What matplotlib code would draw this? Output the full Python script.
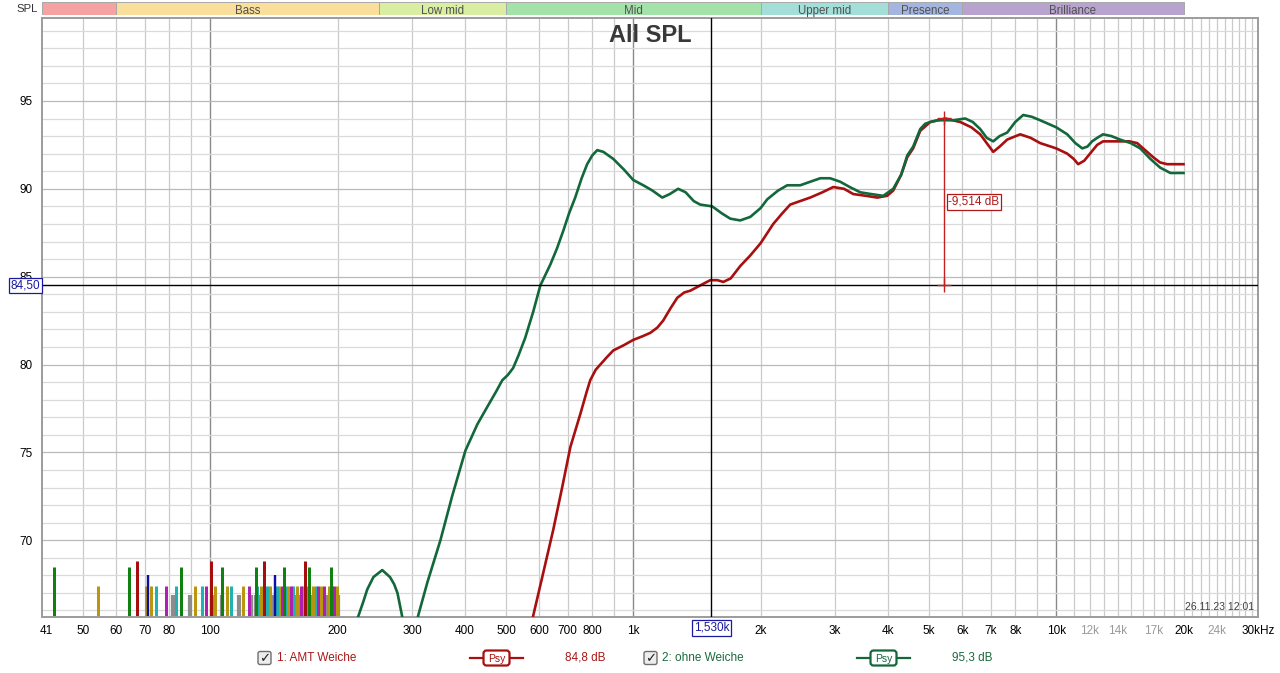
import matplotlib
matplotlib.use('Agg')
import matplotlib.pyplot as plt
import matplotlib.transforms as mtransforms
from matplotlib.patches import FancyBboxPatch, Rectangle
import numpy as np

plt.rcParams['font.family'] = ['Liberation Sans', 'DejaVu Sans']

green_f = [200, 224, 230, 235, 243, 255, 266, 272, 277, 284, 297, 310, 326, 350, 373, 401, 428,
           452, 475, 490, 505, 520, 535, 555, 580, 603, 637, 660, 683, 705, 729, 755, 778, 800,
           822, 850, 897, 950, 1000, 1056, 1110, 1171, 1220, 1277, 1330, 1390, 1440, 1537, 1620,
           1696, 1790, 1891, 2000, 2074, 2200, 2313, 2400, 2482, 2620, 2768, 2920, 3086, 3250,
           3441, 3650, 3900, 4118, 4300, 4445, 4590, 4770, 4900, 5036, 5250, 5466, 5700, 6095,
           6350, 6612, 6850, 7098, 7350, 7658, 8000, 8356, 8750, 9164, 10000, 10620, 11100,
           11524, 11850, 12160, 12500, 12910, 13500, 14160, 15000, 15800, 16700, 17620, 18620,
           19650, 20000]
green_db = [62.0, 65.7, 66.5, 67.2, 67.9, 68.3, 67.9, 67.5, 67.0, 65.7, 62.0, 65.7, 67.6, 70.0,
            72.5, 75.1, 76.6, 77.6, 78.5, 79.1, 79.4, 79.8, 80.5, 81.5, 83.0, 84.5, 85.7, 86.6,
            87.6, 88.6, 89.5, 90.6, 91.4, 91.9, 92.2, 92.1, 91.7, 91.1, 90.5, 90.2, 89.9, 89.5,
            89.7, 90.0, 89.8, 89.3, 89.1, 89.0, 88.6, 88.3, 88.2, 88.4, 88.9, 89.4, 89.9, 90.2,
            90.2, 90.2, 90.4, 90.6, 90.6, 90.4, 90.1, 89.8, 89.7, 89.6, 90.0, 90.8, 91.9, 92.4,
            93.4, 93.7, 93.8, 93.9, 93.9, 93.9, 94.0, 93.8, 93.4, 92.9, 92.7, 93.0, 93.2, 93.8,
            94.2, 94.1, 93.9, 93.5, 93.1, 92.6, 92.3, 92.4, 92.7, 92.9, 93.1, 93.0, 92.8, 92.6,
            92.3, 91.7, 91.2, 90.9, 90.9, 90.9]

red_f = [560, 580, 612, 647, 679, 710, 750, 775, 791, 815, 836, 865, 897, 950, 1000, 1050, 1097,
         1140, 1177, 1225, 1271, 1320, 1364, 1440, 1521, 1580, 1633, 1700, 1790, 1890, 2000,
         2143, 2250, 2350, 2480, 2620, 2800, 2971, 3150, 3313, 3550, 3776, 3983, 4118, 4300,
         4445, 4590, 4770, 5036, 5250, 5466, 5932, 6300, 6612, 6850, 7098, 7350, 7658, 8220,
         8700, 9164, 10000, 10620, 11000, 11270, 11650, 12020, 12500, 12910, 13500, 14160,
         14900, 15540, 16950, 17600, 18290, 20000]
red_db = [63.5, 65.7, 68.1, 70.6, 73.0, 75.3, 77.2, 78.4, 79.1, 79.7, 80.0, 80.4, 80.8, 81.1,
          81.4, 81.6, 81.8, 82.1, 82.5, 83.2, 83.8, 84.1, 84.2, 84.5, 84.8, 84.8, 84.7, 84.9,
          85.6, 86.2, 86.9, 88.0, 88.6, 89.1, 89.3, 89.5, 89.8, 90.1, 90.0, 89.7, 89.6, 89.5,
          89.6, 89.9, 90.8, 91.8, 92.3, 93.3, 93.8, 93.9, 94.0, 93.8, 93.5, 93.1, 92.6, 92.1,
          92.4, 92.8, 93.1, 92.9, 92.6, 92.3, 92.0, 91.7, 91.4, 91.6, 92.0, 92.5, 92.7, 92.7,
          92.7, 92.7, 92.6, 91.8, 91.5, 91.4, 91.4]

# --- small marker bars at the bottom (Hz) and their tops (dB)
bars_gray = [81.8, 89.7, 100.8, 106.4, 117.1, 125, 128, 131, 134, 137, 140, 143, 146, 149, 152,
             155, 158, 161, 164, 167, 170, 173, 176, 179, 182, 185, 188, 191, 194, 197, 200]
bars_gold = [54.4, 70.6, 72.6, 92.2, 102.8, 109.7, 119.7, 132.0, 138.5, 145.5, 152.5, 160.5,
             165.5, 174.5, 182.5, 190.5, 199.0]
bars_cyan = [74.5, 83.1, 95.7, 112.1, 129.1, 136.0, 143.5, 150.5, 157.0, 169.0, 178.0, 194.0]
bars_magenta = [78.7, 97.8, 123.7, 147.5, 155.5, 163.5, 180.0, 186.0, 196.0]
bars_green = [42.8, 64.3, 85.4, 106.7, 128.5, 149.6, 171.4, 192.4]
bars_red = [67.2, 100.5, 134.1, 167.7]
bars_blue = [71.4, 142.5]
bar_tops = {'gray': 66.9, 'gold': 67.4, 'cyan': 67.4, 'magenta': 67.4,
            'green': 68.5, 'red': 68.8, 'blue': 68.0}

# --- frequency bands
band_names = ['', 'Bass', 'Low mid', 'Mid', 'Upper mid', 'Presence', 'Brilliance']
band_edges = [40, 60, 250, 500, 2000, 4000, 6000, 20000]
band_colors = ['#F7A2A2', '#F9DF9B', '#D9EDA3', '#A3E2A9', '#A3DED9', '#A4B6E0', '#B8A3CE']

# --- ticks
x_ticks = [41, 50, 60, 70, 80, 100, 200, 300, 400, 500, 600, 700, 800, 1000, 2000, 3000, 4000,
           5000, 6000, 7000, 8000, 10000, 12000, 14000, 17000, 20000, 24000, 30000]
x_labels = ['41', '50', '60', '70', '80', '100', '200', '300', '400', '500', '600', '700', '800',
            '1k', '2k', '3k', '4k', '5k', '6k', '7k', '8k', '10k', '12k', '14k', '17k', '20k',
            '24k', '30kHz']
x_grey = ['12k', '14k', '17k', '24k']
y_ticks = [70, 75, 80, 85, 90, 95]

cursor_f = 1530
cursor_db = 84.5
delta_f = 5440
delta_db = -9.514

GREEN = '#12683A'
RED = '#A80F0F'

W, H = 1280, 673
def px(x0, y0, x1, y1):
    return [x0 / W, 1 - y1 / H, (x1 - x0) / W, (y1 - y0) / H]

fig = plt.figure(figsize=(12.8, 6.73), dpi=100)
fig.patch.set_facecolor('white')

ax = fig.add_axes(px(42, 18, 1258, 617))
ax.set_xscale('log')
ax.set_xlim(40, 30000)
ax.set_ylim(65.63, 99.72)

# grid
light_f = [50, 60, 70, 80, 90] + list(range(200, 1000, 100)) + list(range(2000, 10000, 1000)) \
    + list(range(11000, 30000, 1000))
for f in light_f:
    ax.axvline(f, color='#CACACA', lw=0.9, zorder=0)
for f in [100, 1000, 10000]:
    ax.axvline(f, color='#8A8A8A', lw=1.0, zorder=0)
for d in range(66, 100):
    ax.axhline(d, color='#BABABA' if d % 5 == 0 else '#DADADA', lw=0.9, zorder=0)

# bottom bars
bar_sets = [('gray', bars_gray, '#8C8C8C', 4.2), ('gold', bars_gold, '#B8960E', 3.0),
            ('cyan', bars_cyan, '#20B2B2', 3.0), ('magenta', bars_magenta, '#B020B0', 3.0),
            ('green', bars_green, '#108010', 3.0), ('red', bars_red, '#A50E0E', 3.0),
            ('blue', bars_blue, '#1010A0', 2.4)]
for name, freqs, col, lw in bar_sets:
    ax.vlines(freqs, 65.63, bar_tops[name], colors=col, lw=lw * 0.72, zorder=2)

ax.plot(red_f, red_db, color=RED, lw=1.9, zorder=4, solid_joinstyle='round')
ax.plot(green_f, green_db, color=GREEN, lw=1.9, zorder=5, solid_joinstyle='round')

# cursors
ax.axhline(cursor_db, color='black', lw=1.0, zorder=6)
ax.axvline(cursor_f, color='black', lw=1.0, zorder=6)

# delta marker
top_db = cursor_db - delta_db
ax.plot([delta_f, delta_f], [cursor_db, top_db], color='#C42020', lw=1.0, zorder=7)
ax.plot([delta_f, delta_f], [cursor_db, top_db], ls='none', marker='+', ms=10, mew=1.0,
        color='#C42020', zorder=7)
ax.text(delta_f * 1.022, (cursor_db + top_db) / 2, ('%.3f dB' % delta_db).replace('.', ','),
        ha='left', va='center', fontsize=8.5, color='#B01818', zorder=8,
        bbox=dict(boxstyle='square,pad=0.15', fc='white', ec='#B01818', lw=0.9))

# ticks
ax.set_xticks(x_ticks)
ax.set_xticklabels(x_labels)
ax.xaxis.set_minor_locator(matplotlib.ticker.NullLocator())
ax.set_yticks(y_ticks)
ax.set_yticklabels([str(v) for v in y_ticks])
ax.tick_params(length=0, labelsize=8.5, colors='black')
ax.tick_params(axis='x', pad=6)
ax.tick_params(axis='y', pad=7)
for lab in ax.get_xticklabels():
    if lab.get_text() in x_grey:
        lab.set_color('#9A9A9A')
for s in ax.spines.values():
    s.set_color('#9C9C9C')
    s.set_linewidth(1.4)

# cursor readouts
tr_y = mtransforms.blended_transform_factory(fig.transFigure, ax.transData)
fig.text(40.5 / W, cursor_db, ('%.2f' % cursor_db).replace('.', ','), transform=tr_y,
         ha='right', va='center', fontsize=8.5, color='#1A1AA0', zorder=10,
         bbox=dict(boxstyle='square,pad=0.15', fc='white', ec='#1A1AA0', lw=0.9))
tr_x = mtransforms.blended_transform_factory(ax.transData, fig.transFigure)
fig.text(cursor_f, 1 - 628 / H, ('%.3fk' % (cursor_f / 1000)).replace('.', ','), transform=tr_x,
         ha='center', va='center', fontsize=8.5, color='#1A1AA0', zorder=10,
         bbox=dict(boxstyle='square,pad=0.15', fc='white', ec='#1A1AA0', lw=0.9))

# title and timestamp
fig.text(650 / W, 1 - 35 / H, 'All SPL', ha='center', va='center', fontsize=17,
         fontweight='bold', color='#383838')
ax.text(0.997, 0.008, '26.11.23 12:01', transform=ax.transAxes, ha='right', va='bottom',
        fontsize=7.5, color='#404040')

# band strip
bx = fig.add_axes(px(42, 2, 1258, 15))
bx.set_xscale('log')
bx.set_xlim(40, 30000)
bx.set_ylim(0, 1)
bx.axis('off')
for i, name in enumerate(band_names):
    lo, hi = band_edges[i], band_edges[i + 1]
    bx.add_patch(Rectangle((lo, 0), hi - lo, 1, fc=band_colors[i], ec='#A8A8A8', lw=0.7))
    if name:
        bx.text(np.sqrt(lo * hi), 0.45, name, ha='center', va='center_baseline', fontsize=8.3,
                color='#505050')
fig.text(38 / W, 1 - 8.5 / H, 'SPL', ha='right', va='center', fontsize=8.2, color='#333333')

# legend row (pixel overlay)
ov = fig.add_axes([0, 0, 1, 1], zorder=20)
ov.set_xlim(0, W)
ov.set_ylim(H, 0)
ov.axis('off')
ov.patch.set_alpha(0)

def checkbox(x, y):
    ov.add_patch(FancyBboxPatch((x, y - 6.5), 13, 13, boxstyle='round,pad=0,rounding_size=2',
                                fc='#EDEDED', ec='#6E6E6E', lw=1.0))
    ov.text(x + 6.8, y + 0.5, '\u2713', ha='center', va='center', fontsize=9.5,
            fontweight='bold', color='#202020', family='DejaVu Sans')

def psy(x0, x1, y, col):
    ov.plot([x0, x1], [y, y], color=col, lw=1.6, zorder=1)
    xm = (x0 + x1) / 2
    ov.add_patch(FancyBboxPatch((xm - 13, y - 7.5), 26, 15,
                                boxstyle='round,pad=0,rounding_size=3',
                                fc='white', ec=col, lw=1.6, zorder=2))
    ov.text(xm, y + 0.5, 'Psy', ha='center', va='center', fontsize=7.5, color=col, zorder=3)

ly = 658
checkbox(258, ly)
ov.text(277, ly, '1: AMT Weiche', ha='left', va='center', fontsize=8.5, color='#A81818')
psy(470, 523, ly, RED)
ov.text(585, ly, '84,8 dB', ha='center', va='center', fontsize=8.5, color='#A81818')
checkbox(644, ly)
ov.text(662, ly, '2: ohne Weiche', ha='left', va='center', fontsize=8.5, color='#1A6A3E')
psy(857, 910, ly, GREEN)
ov.text(972, ly, '95,3 dB', ha='center', va='center', fontsize=8.5, color='#1A6A3E')

fig.savefig('out.png', dpi=100, facecolor='white')
